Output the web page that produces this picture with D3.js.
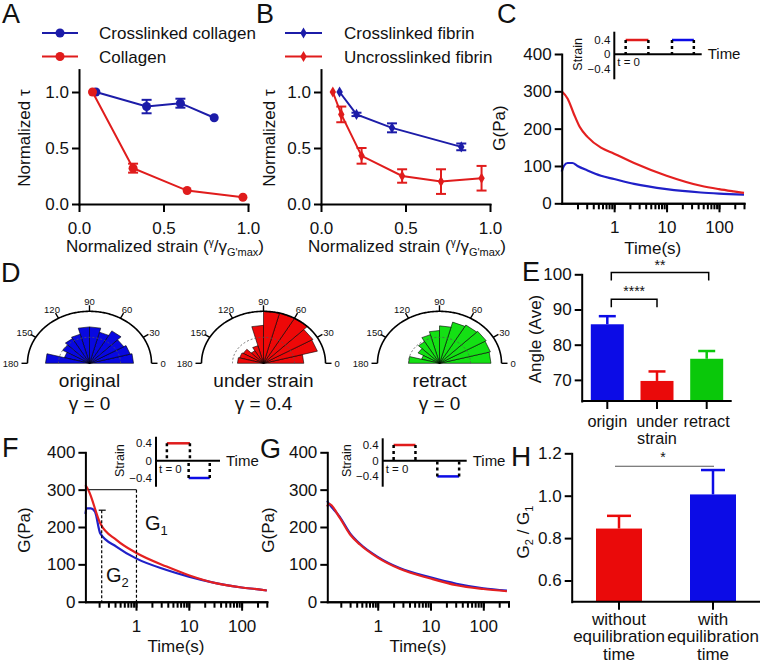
<!DOCTYPE html>
<html>
<head>
<meta charset="utf-8">
<script src="https://d3js.org/d3.v7.min.js"></script>
<style>
body { margin: 0; background: #fff; }
svg text { font-family: "Liberation Sans", Arial, Helvetica, sans-serif; fill: #111; }
</style>
</head>
<body>
<script>
// ---------------- data ----------------
// A: normalized tau vs normalized strain, collagen
var aStrainXL = [0.10, 0.40, 0.60, 0.80];
var aTauXL    = [1.00, 0.87, 0.90, 0.77];
var aErrXL    = [0.00, 0.06, 0.04, 0.00];
var aStrainCol = [0.08, 0.32, 0.64, 0.97];
var aTauCol    = [1.00, 0.32, 0.12, 0.06];
var aErrCol    = [0.00, 0.04, 0.00, 0.00];
// B: fibrin
var bStrainXL = [0.11, 0.21, 0.42, 0.83];
var bTauXL    = [1.00, 0.80, 0.68, 0.51];
var bErrXL    = [0.00, 0.015, 0.04, 0.03];
var bStrainUn = [0.07, 0.12, 0.24, 0.48, 0.71, 0.95];
var bTauUn    = [1.00, 0.80, 0.43, 0.25, 0.20, 0.23];
var bErrUn    = [0.00, 0.07, 0.07, 0.06, 0.11, 0.11];
var strainTicks = [0, 0.5, 1.0];
var tauTicks = [0, 0.5, 1.0];

// C: relaxation, two steps of same sign
var cTimeRed  = [0.1, 0.13, 0.17, 0.22, 0.31, 0.56, 1, 2.4, 10, 45, 100, 190, 300];
var cRed      = [300, 280, 240, 205, 178, 149, 133, 108, 74, 47, 38, 32, 28];
var cTimeBlue = [0.1, 0.11, 0.13, 0.16, 0.2, 0.31, 0.56, 1, 2.4, 10, 45, 100, 300];
var cBlue     = [85, 100, 108, 108, 100, 88, 74, 65, 52, 38, 29, 26, 23];
var gTicks = [0, 100, 200, 300, 400];
var timeLabels = [1, 10, 100];
var insetTicks = [0.4, 0, -0.4];
var cInsetRed = [1.3, 3.9], cInsetBlue = [6.6, 9.1];

// D: rose histograms, 12 bins of 15 deg (0..180), radius relative to outer ring
var roseOriginal = [0.71, 0.68, 0.64, 0.72, 0.62, 0.70, 0.70, 0.58, 0.55, 0.50, 0.42, 0.71];
var roseStrain   = [0.65, 0.90, 0.92, 1.00, 1.00, 1.00, 0.73, 0.35, 0.28, 0.38, 0.40, 0.42];
var roseRetract  = [0.83, 0.85, 0.87, 0.85, 0.82, 0.72, 0.63, 0.57, 0.48, 0.40, 0.30, 0.50];
var roseAngles = [0, 30, 60, 90, 120, 150, 180];

// E: average fibre angle
var eCats  = ["origin", "under strain", "retract"];
var eMeans = [85.8, 69.7, 76.0];
var eErr   = [2.3, 2.7, 2.2];
var eTicks = [70, 80, 90, 100];

// F: opposite-sign steps, no equilibration
var fTimeRed  = [0.11, 0.125, 0.21, 0.43, 1, 3.8, 10, 34, 100, 210, 300];
var fRed      = [312, 299, 210, 165, 131, 94, 71, 49, 38, 33, 30];
var fTimeBlue = [0.11, 0.115, 0.14, 0.167, 0.21, 0.43, 1, 3.8, 10, 34, 100, 210, 300];
var fBlue     = [235, 250, 250, 241, 183, 147, 116, 85, 67, 49, 38, 33, 30];
var fG1 = 300, fG1Span = [0.125, 1.02], fG2 = 245, fG2At = 0.224;
var fInsetRed = [1.7, 5.3], fInsetBlue = [5.1, 8.4];

// G: opposite-sign steps with equilibration
var gTime = [0.11, 0.12, 0.19, 0.3, 0.46, 1, 2.6, 10, 31, 100, 280];
var gRed  = [255, 262, 225, 180, 153, 118, 88, 62, 44, 34, 28];
var gBlue = [270, 262, 228, 183, 155, 120, 90, 65, 48, 36, 30];
var gInsetRed = [1.3, 3.9], gInsetBlue = [6.5, 9.1];

// H: G2/G1
var hLabels = [["without", "equilibration", "time"], ["with", "equilibration", "time"]];
var hMeans = [0.845, 1.006];
var hErr   = [0.06, 0.115];
var hTicks = [0.6, 0.8, 1.0, 1.2];

var BLUE = "#1c1ca8", RED = "#e01c1c";
var BBLUE = "#0c0ce6", BRED = "#ea0a0a", BGREEN = "#0ac80a";

// ---------------- helpers ----------------
var svg = d3.select("body").append("svg")
  .attr("width", 762).attr("height", 665)
  .style("background", "#fff");

function txt(x, y, s, size, anchor) {
  return svg.append("text").attr("x", x).attr("y", y)
    .attr("font-size", size).attr("text-anchor", anchor || "start").text(s);
}
function vtitle(x, y, size) {
  return svg.append("text").attr("transform", "translate(" + x + "," + y + ") rotate(-90)")
    .attr("font-size", size).attr("text-anchor", "middle");
}
function styleAxis(g, size) {
  g.attr("font-family", null).attr("font-size", null);
  g.selectAll("path.domain").attr("stroke", "#000").attr("stroke-width", 2).attr("stroke-linecap", "square");
  g.selectAll(".tick line").attr("stroke", "#000").attr("stroke-width", 2);
  g.selectAll(".tick text").attr("font-size", size || 17).attr("fill", "#111");
}
function yAxis(x0, y, ticks, fmt) {
  var g = svg.append("g").attr("transform", "translate(" + x0 + ",0)")
    .call(d3.axisLeft(y).tickValues(ticks).tickFormat(fmt).tickSize(7).tickPadding(3).tickSizeOuter(0));
  styleAxis(g);
}
function logXAxis(y0, x) {
  var minor = x.ticks().filter(function(d) { return d > 0.15; });
  var g1 = svg.append("g").attr("transform", "translate(0," + y0 + ")")
    .call(d3.axisBottom(x).tickValues(minor).tickFormat("").tickSize(6).tickSizeOuter(0));
  styleAxis(g1);
  var g2 = svg.append("g").attr("transform", "translate(0," + y0 + ")")
    .call(d3.axisBottom(x).tickValues(timeLabels).tickFormat(d3.format("d")).tickSize(9).tickPadding(9).tickSizeOuter(0));
  styleAxis(g2);
}
function errBars(g, xs, ys, es, x, y, color, capW) {
  xs.forEach(function(v, i) {
    if (!es[i]) return;
    var cx = x(v);
    g.append("line").attr("x1", cx).attr("x2", cx).attr("y1", y(ys[i] - es[i])).attr("y2", y(ys[i] + es[i]))
      .attr("stroke", color).attr("stroke-width", 2);
    [ys[i] - es[i], ys[i] + es[i]].forEach(function(e) {
      g.append("line").attr("x1", cx - capW).attr("x2", cx + capW).attr("y1", y(e)).attr("y2", y(e))
        .attr("stroke", color).attr("stroke-width", 2);
    });
  });
}
function strainTitle(cx, y) {
  var t = txt(cx, y, "", 17, "middle");
  t.append("tspan").text("Normalized strain (");
  t.append("tspan").attr("font-size", 10).attr("dy", -6).text("γ");
  t.append("tspan").attr("dy", 6).text("/γ");
  t.append("tspan").attr("font-size", 11).attr("dy", 4).text("G'max");
  t.append("tspan").attr("dy", -4).text(")");
}

// ---------------- A & B ----------------
function strainPanel(x0, sets, legendX, legendTextX, symbolType, symbolSize) {
  var x = d3.scaleLinear().domain([0, 1]).range([x0, x0 + 169]);
  var y = d3.scaleLinear().domain([0, 1.2]).range([204, 69.6]);
  var g = svg.append("g");
  var line = d3.line().x(function(d) { return x(d[0]); }).y(function(d) { return y(d[1]); });
  var sym = d3.symbol().type(symbolType).size(symbolSize);
  sets.forEach(function(s, k) {
    var pts = d3.zip(s.xs, s.ys);
    g.append("path").attr("d", line(pts)).attr("fill", "none").attr("stroke", s.color).attr("stroke-width", 2);
    errBars(g, s.xs, s.ys, s.es, x, y, s.color, 5);
    g.selectAll(null).data(pts).enter().append("path")
      .attr("transform", function(d) { return "translate(" + x(d[0]) + "," + y(d[1]) + ")"; })
      .attr("d", sym).attr("fill", s.color);
    // legend
    var ly = 33 + k * 23.5;
    svg.append("line").attr("x1", legendX[0]).attr("x2", legendX[1]).attr("y1", ly).attr("y2", ly)
      .attr("stroke", s.color).attr("stroke-width", 2);
    svg.append("path").attr("transform", "translate(" + (legendX[0] + legendX[1]) / 2 + "," + ly + ")")
      .attr("d", sym).attr("fill", s.color);
    txt(legendTextX, ly + 6, s.name, 17);
  });
  yAxis(x0, y, tauTicks, d3.format(".1f"));
  var gx = svg.append("g").attr("transform", "translate(0,204)")
    .call(d3.axisBottom(x).tickValues(strainTicks).tickFormat(d3.format(".1f")).tickSize(8).tickPadding(10).tickSizeOuter(0));
  styleAxis(gx);
  strainTitle(x0 + 86, 252);
}

strainPanel(79, [
  { xs: aStrainXL, ys: aTauXL, es: aErrXL, color: BLUE, name: "Crosslinked collagen" },
  { xs: aStrainCol, ys: aTauCol, es: aErrCol, color: RED, name: "Collagen" }
], [42, 78], 99, d3.symbolCircle, 64);
strainPanel(321, [
  { xs: bStrainXL, ys: bTauXL, es: bErrXL, color: BLUE, name: "Crosslinked fibrin" },
  { xs: bStrainUn, ys: bTauUn, es: bErrUn, color: RED, name: "Uncrosslinked fibrin" }
], [285, 322], 344, d3.symbolDiamond, 36);

[[30, "A"], [275, "B"]].forEach(function(p) {
  var t = vtitle(p[0], 138, 17);
  t.append("tspan").text("Normalized τ");
});
txt(2, 23, "A", 27); txt(256, 23, "B", 27); txt(497, 23, "C", 27);

// ---------------- time panels (C, F, G) ----------------
function curve(x, y, ts, vs, color) {
  var line = d3.line().x(function(d) { return x(d[0]); }).y(function(d) { return y(d[1]); }).curve(d3.curveMonotoneX);
  svg.append("path").attr("d", line(d3.zip(ts, vs))).attr("fill", "none")
    .attr("stroke", color).attr("stroke-width", 2.2);
}
function inset(o) {
  var ys = d3.scaleLinear().domain([-0.4, 0.4]).range([o.yMinus, o.yPlus]);
  var xs = d3.scaleLinear().domain([0, 10]).range([o.ax, o.xEnd]);
  var g = svg.append("g");
  g.append("line").attr("x1", o.ax).attr("x2", o.ax).attr("y1", o.top).attr("y2", o.bottom)
    .attr("stroke", "#000").attr("stroke-width", 2);
  g.append("line").attr("x1", o.ax).attr("x2", o.xEnd).attr("y1", ys(0)).attr("y2", ys(0))
    .attr("stroke", "#000").attr("stroke-width", 2);
  insetTicks.forEach(function(v) {
    txt(o.ax - 4, ys(v) + 4, v === 0 ? "0" : d3.format(".1f")(v), 11.5, "end");
  });
  svg.append("text").attr("transform", "translate(" + o.labelX + "," + ys(0) + ") rotate(-90)")
    .attr("font-size", 12.5).attr("text-anchor", "middle").text("Strain");
  txt(o.ax + 3, ys(0) + 12, "t = 0", 11.5);
  txt(o.xEnd + 6, ys(0) + 5, "Time", 15);
  o.segs.forEach(function(s) {
    g.append("line").attr("x1", xs(s.t[0])).attr("x2", xs(s.t[1])).attr("y1", ys(s.s)).attr("y2", ys(s.s))
      .attr("stroke", s.color).attr("stroke-width", 2.5);
    s.t.forEach(function(t) {
      g.append("line").attr("x1", xs(t)).attr("x2", xs(t)).attr("y1", ys(s.s)).attr("y2", ys(0))
        .attr("stroke", "#000").attr("stroke-width", 2.5).attr("stroke-dasharray", "3,3");
    });
  });
}

// C
var xC = d3.scaleLog().domain([0.1, 300]).range([561.7, 744]);
var yC = d3.scaleLinear().domain([0, 400]).range([203.3, 54]);
curve(xC, yC, cTimeBlue, cBlue, "#2020c8");
curve(xC, yC, cTimeRed, cRed, "#e42020");
yAxis(561.7, yC, gTicks, d3.format("d"));
logXAxis(203.3, xC);
txt(652.8, 254, "Time(s)", 17, "middle");
vtitle(505, 128, 17).text("G(Pa)");
inset({ ax: 614.3, top: 31.7, bottom: 79.3, yPlus: 40, yMinus: 68.6, xEnd: 701.7, labelX: 582,
  segs: [{ t: cInsetRed, s: 0.4, color: RED }, { t: cInsetBlue, s: 0.4, color: BBLUE }] });

// F
var xF = d3.scaleLog().domain([0.11, 300]).range([85.4, 266.8]);
var yF = d3.scaleLinear().domain([0, 400]).range([601.7, 452.3]);
curve(xF, yF, fTimeBlue, fBlue, "#2020c8");
curve(xF, yF, fTimeRed, fRed, "#e42020");
svg.append("line").attr("x1", xF(fG1Span[0])).attr("x2", xF(fG1Span[1])).attr("y1", yF(fG1)).attr("y2", yF(fG1))
  .attr("stroke", "#333").attr("stroke-width", 1.2);
svg.append("line").attr("x1", xF(fG1Span[1])).attr("x2", xF(fG1Span[1])).attr("y1", yF(fG1)).attr("y2", yF(0))
  .attr("stroke", "#000").attr("stroke-width", 1.2).attr("stroke-dasharray", "3,2");
svg.append("line").attr("x1", xF(fG2At)).attr("x2", xF(fG2At)).attr("y1", yF(fG2)).attr("y2", yF(0))
  .attr("stroke", "#000").attr("stroke-width", 1.2).attr("stroke-dasharray", "3,2");
svg.append("line").attr("x1", xF(fG2At) - 3).attr("x2", xF(fG2At) + 4).attr("y1", yF(fG2)).attr("y2", yF(fG2))
  .attr("stroke", "#000").attr("stroke-width", 1.2);
var tg1 = txt(145, 530, "G", 20); tg1.append("tspan").attr("font-size", 13).attr("dy", 5).text("1");
var tg2 = txt(106, 582, "G", 20); tg2.append("tspan").attr("font-size", 13).attr("dy", 5).text("2");
yAxis(85.4, yF, gTicks, d3.format("d"));
logXAxis(601.7, xF);
txt(176, 652, "Time(s)", 17, "middle");
vtitle(30, 530, 17).text("G(Pa)");
inset({ ax: 156, top: 436.7, bottom: 486.7, yPlus: 443.3, yMinus: 478, xEnd: 220, labelX: 124,
  segs: [{ t: fInsetRed, s: 0.4, color: RED }, { t: fInsetBlue, s: -0.4, color: BBLUE }] });
txt(2, 457, "F", 27);

// G
var xG = d3.scaleLog().domain([0.111, 300]).range([327.3, 508.5]);
var yG = d3.scaleLinear().domain([0, 400]).range([601.7, 452.3]);
curve(xG, yG, gTime, gBlue, "#2020c8");
curve(xG, yG, gTime, gRed, "#e42020");
yAxis(327.3, yG, gTicks, d3.format("d"));
logXAxis(601.7, xG);
txt(418, 652, "Time(s)", 17, "middle");
vtitle(274, 530, 17).text("G(Pa)");
inset({ ax: 382.7, top: 438.3, bottom: 486.7, yPlus: 445, yMinus: 476.4, xEnd: 466.7, labelX: 351,
  segs: [{ t: gInsetRed, s: 0.4, color: RED }, { t: gInsetBlue, s: -0.4, color: BBLUE }] });
txt(260, 458, "G", 27);

// ---------------- D: rose plots ----------------
function rose(cx, radii, color, name, gammaText) {
  var cy = 363.3, rx = 62, ry = 52;
  var ang = d3.scaleLinear().domain([0, 180]).range([0, Math.PI]);
  var rX = d3.scaleLinear().domain([0, 1]).range([0, rx]);
  var rY = d3.scaleLinear().domain([0, 1]).range([0, ry]);
  function pt(a, r) { return [cx + rX(r) * Math.cos(ang(a)), cy - rY(r) * Math.sin(ang(a))]; }
  var step = 180 / radii.length;
  var g = svg.append("g");
  g.selectAll(null).data(radii).enter().append("path")
    .attr("d", function(r, i) {
      return "M" + [cx, cy] + "L" + pt(i * step, r) + "L" + pt((i + 1) * step, r) + "Z";
    })
    .attr("fill", color).attr("stroke", "#000").attr("stroke-width", 0.6);
  var arc = d3.line();
  g.append("path").attr("d", arc(d3.range(0, 181, 2).map(function(a) { return pt(a, 0.5); })))
    .attr("fill", "none").attr("stroke", "#555").attr("stroke-width", 0.8).attr("stroke-dasharray", "2,2");
  g.append("path").attr("d", arc(d3.range(0, 181, 1).map(function(a) { return pt(a, 1); })))
    .attr("fill", "none").attr("stroke", "#000").attr("stroke-width", 1.6);
  roseAngles.forEach(function(a) {
    var p0 = pt(a, 1), c = Math.cos(ang(a)), s = Math.sin(ang(a));
    g.append("line").attr("x1", p0[0]).attr("y1", p0[1]).attr("x2", p0[0] + 6 * c).attr("y2", p0[1] - 6 * s)
      .attr("stroke", "#000").attr("stroke-width", 1.4);
    if (a === 0) txt(p0[0] + 9, cy + 3.5, "0", 9.5, "start");
    else if (a === 180) txt(p0[0] - 9, cy + 3.5, "180", 9.5, "end");
    else txt(p0[0] + 13 * c, p0[1] - 10 * s + 3.5, String(a), 9.5, "middle");
  });
  txt(cx, 387, name, 19, "middle");
  txt(cx, 410, gammaText, 19, "middle");
}
rose(89.5, roseOriginal, "#0808e0", "original", "γ = 0");
rose(263.5, roseStrain, "#ee0808", "under strain", "γ = 0.4");
rose(439.5, roseRetract, "#14e014", "retract", "γ = 0");
txt(1, 282, "D", 27);

// ---------------- E ----------------
var yE = d3.scaleLinear().domain([64, 100]).range([401, 274.3]);
var xE = d3.scalePoint().domain(eCats).range([607.3, 706.7]);
var eColors = [BBLUE, BRED, BGREEN];
eCats.forEach(function(c, i) {
  var cx = xE(c);
  svg.append("line").attr("x1", cx).attr("x2", cx).attr("y1", yE(eMeans[i])).attr("y2", yE(eMeans[i] + eErr[i]))
    .attr("stroke", eColors[i]).attr("stroke-width", 2.5);
  svg.append("line").attr("x1", cx - 8.5).attr("x2", cx + 8.5).attr("y1", yE(eMeans[i] + eErr[i])).attr("y2", yE(eMeans[i] + eErr[i]))
    .attr("stroke", eColors[i]).attr("stroke-width", 2.5);
  svg.append("rect").attr("x", cx - 16.5).attr("width", 33).attr("y", yE(eMeans[i]))
    .attr("height", yE(64) - yE(eMeans[i])).attr("fill", eColors[i]);
});
yAxis(581.7, yE, eTicks, d3.format("d"));
svg.append("line").attr("x1", 581.7).attr("x2", 731.7).attr("y1", 401).attr("y2", 401)
  .attr("stroke", "#000").attr("stroke-width", 2);
var eLabels = [["origin"], ["under", "strain"], ["retract"]];
eCats.forEach(function(c, i) {
  svg.append("line").attr("x1", xE(c)).attr("x2", xE(c)).attr("y1", 401).attr("y2", 409)
    .attr("stroke", "#000").attr("stroke-width", 2);
  eLabels[i].forEach(function(s, k) { txt(xE(c), 427 + k * 16.5, s, 16.3, "middle"); });
});
[{ a: 0, b: 2, v: 100.5, s: "**", off: [4, 2] }, { a: 0, b: 1, v: 92.9, s: "****", off: [4, 0] }].forEach(function(br) {
  var x1 = xE(eCats[br.a]) + br.off[0], x2 = xE(eCats[br.b]) + br.off[1], yb = yE(br.v);
  svg.append("path").attr("d", "M" + x1 + "," + (yb + 8) + "V" + yb + "H" + x2 + "V" + (yb + 8))
    .attr("fill", "none").attr("stroke", "#000").attr("stroke-width", 1.5);
  txt((x1 + x2) / 2, yb - 3, br.s, 14, "middle");
});
vtitle(541, 339, 17).text("Angle (Ave)");
txt(522, 281, "E", 27);

// ---------------- H ----------------
var yH = d3.scaleLinear().domain([0.5, 1.2]).range([601.7, 453.3]);
var xH = d3.scalePoint().domain([0, 1]).range([619, 713]);
var hColors = [BRED, BBLUE];
hMeans.forEach(function(m, i) {
  var cx = xH(i);
  svg.append("line").attr("x1", cx).attr("x2", cx).attr("y1", yH(m)).attr("y2", yH(m + hErr[i]))
    .attr("stroke", hColors[i]).attr("stroke-width", 2.5);
  svg.append("line").attr("x1", cx - 12).attr("x2", cx + 12).attr("y1", yH(m + hErr[i])).attr("y2", yH(m + hErr[i]))
    .attr("stroke", hColors[i]).attr("stroke-width", 2.5);
  svg.append("rect").attr("x", cx - 23).attr("width", 46).attr("y", yH(m))
    .attr("height", yH(0.5) - yH(m)).attr("fill", hColors[i]);
});
yAxis(571.7, yH, hTicks, d3.format(".1f"));
svg.append("line").attr("x1", 571.7).attr("x2", 760).attr("y1", 601.7).attr("y2", 601.7)
  .attr("stroke", "#000").attr("stroke-width", 2);
hLabels.forEach(function(lines, i) {
  svg.append("line").attr("x1", xH(i)).attr("x2", xH(i)).attr("y1", 601.7).attr("y2", 609.7)
    .attr("stroke", "#000").attr("stroke-width", 2);
  lines.forEach(function(s, k) { txt(xH(i), 624.5 + k * 17.5, s, 17, "middle"); });
});
svg.append("line").attr("x1", 615).attr("x2", 714).attr("y1", yH(1.139)).attr("y2", yH(1.139))
  .attr("stroke", "#555").attr("stroke-width", 1.2);
txt(663, yH(1.139) - 4, "*", 14, "middle");
var th = vtitle(529, 532, 17);
th.append("tspan").text("G");
th.append("tspan").attr("font-size", 11).attr("dy", 4).text("2");
th.append("tspan").attr("dy", -4).text(" / G");
th.append("tspan").attr("font-size", 11).attr("dy", 4).text("1");
txt(511, 466, "H", 28);
</script>
</body>
</html>
